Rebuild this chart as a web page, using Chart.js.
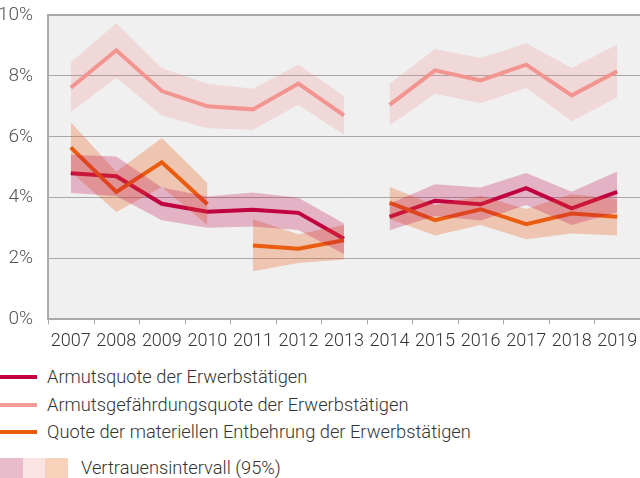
<!DOCTYPE html>
<html>
<head>
<meta charset="utf-8">
<script src="https://cdn.jsdelivr.net/npm/chart.js@4"></script>
<style>
  body { margin: 0; background: #fff; font-family: Roboto, sans-serif; font-weight: 300; color: #333; }
  #wrap { position: relative; width: 640px; height: 478px; overflow: hidden; }
  #chartBox { position: absolute; left: 0; top: 0; width: 640px; height: 355px; }
  .leg { position: absolute; left: 0; font-size: 18.3px; line-height: 20px; white-space: nowrap; }
  .leg .ln { position: absolute; left: 0; top: 8px; width: 37px; height: 4px; }
  .leg .tx { position: absolute; left: 47px; top: 0; }
  .sw { position: absolute; top: 458px; width: 23px; height: 20px; }
</style>
</head>
<body>
<div id="wrap">
  <div id="chartBox"><canvas id="lineChart"></canvas></div>
  <div class="leg" style="top:367px"><div class="ln" style="background:#c3003f"></div><div class="tx">Armutsquote der Erwerbstätigen</div></div>
  <div class="leg" style="top:395px"><div class="ln" style="background:#f39c95"></div><div class="tx">Armutsgefährdungsquote der Erwerbstätigen</div></div>
  <div class="leg" style="top:422px"><div class="ln" style="background:#ea5b0c"></div><div class="tx">Quote der materiellen Entbehrung der Erwerbstätigen</div></div>
  <div class="sw" style="left:0;background:#e9bccb"></div>
  <div class="sw" style="left:23px;background:#fbe3e3"></div>
  <div class="sw" style="left:45px;background:#f9d2bc"></div>
  <div class="leg" style="top:458px;left:81px">Vertrauensintervall (95%)</div>
</div>
<script>

const years = ["2007","2008","2009","2010","2011","2012","2013","2014","2015","2016","2017","2018","2019"];

// Armutsquote der Erwerbstätigen
const armut = [4.8, 4.7, 3.8, 3.54, 3.6, 3.5, 2.65, null, 3.37, 3.9, 3.78, 4.31, 3.65, 4.19];
const armutHigh = [5.41, 5.35, 4.33, 4.04, 4.17, 4.0, 3.15, null, 3.8, 4.44, 4.33, 4.81, 4.19, 4.86];
const armutLow = [4.15, 4.05, 3.26, 3.01, 3.05, 2.94, 2.15, null, 2.93, 3.4, 3.25, 3.76, 3.1, 3.52];

// Armutsgefährdungsquote der Erwerbstätigen
const gefahr = [7.61, 8.84, 7.5, 7.0, 6.9, 7.75, 6.7, null, 7.05, 8.18, 7.85, 8.37, 7.36, 8.15];
const gefahrHigh = [8.44, 9.73, 8.26, 7.74, 7.58, 8.37, 7.34, null, 7.74, 8.88, 8.59, 9.07, 8.26, 9.03];
const gefahrLow = [6.81, 7.94, 6.7, 6.28, 6.23, 7.05, 6.06, null, 6.37, 7.41, 7.1, 7.61, 6.51, 7.3];

// Quote der materiellen Entbehrung der Erwerbstätigen
const entbehrung = [5.65, 4.19, 5.16, 3.78, null, 2.43, 2.32, 2.6, null, 3.84, 3.26, 3.62, 3.13, 3.48, 3.37];
const entbehrungHigh = [6.48, 4.85, 5.96, 4.48, null, 3.29, 2.8, 3.1, null, 4.36, 3.75, 4.06, 3.63, 4.11, 3.95];
const entbehrungLow = [4.85, 3.53, 4.35, 3.1, null, 1.58, 1.85, 1.97, null, 3.3, 2.76, 3.1, 2.63, 2.82, 2.76];

// the gaps sit between two years, so use x values in half steps
function toPoints(values){
    const pts = [];
    let i = 0;
    values.forEach(v => {
        if(v === null){
            pts.push({x: i - 0.5, y: null});
        } else {
            pts.push({x: i, y: v});
            i++;
        }
    });
    return pts;
}

function band(values, color, fill){
    return {
        data: toPoints(values),
        borderWidth: 0,
        pointRadius: 0,
        backgroundColor: color,
        fill: fill,
        spanGaps: false
    };
}

function line(values, color){
    return {
        data: toPoints(values),
        borderColor: color,
        borderWidth: 4,
        pointRadius: 0,
        fill: false,
        spanGaps: false,
        borderJoinStyle: "miter"
    };
}

const plotBackground = {
    id: "plotBackground",
    beforeDraw(chart){
        const a = chart.chartArea;
        const ctx = chart.ctx;
        ctx.save();
        ctx.fillStyle = "#f0f0f0";
        ctx.fillRect(a.left, a.top, a.right - a.left, a.bottom - a.top);
        ctx.restore();
    }
};

const ctx = document.getElementById("lineChart").getContext("2d");

new Chart(ctx, {
    type: "line",
    data: {
        datasets: [
            band(gefahrHigh, "rgba(240,120,120,0.2)", "+1"),
            band(gefahrLow, "transparent", false),
            band(armutHigh, "rgba(190,0,70,0.26)", "+1"),
            band(armutLow, "transparent", false),
            band(entbehrungHigh, "rgba(235,100,30,0.3)", "+1"),
            band(entbehrungLow, "transparent", false),
            line(gefahr, "#f39c95"),
            line(entbehrung, "#ea5b0c"),
            line(armut, "#c3003f")
        ]
    },
    options: {
        responsive: true,
        maintainAspectRatio: false,
        animation: false,
        layout: { padding: { top: 15, right: 0, left: 0, bottom: 0 } },
        plugins: {
            legend: { display: false },
            tooltip: { enabled: false }
        },
        scales: {
            x: {
                type: "linear",
                min: -0.5,
                max: 12.5,
                afterBuildTicks: axis => {
                    axis.ticks = years.map((y, i) => ({ value: i }));
                },
                afterFit: axis => {
                    axis.paddingLeft = 0;
                    axis.paddingRight = 0;
                },
                ticks: {
                    callback: (v, i) => years[i],
                    font: { family: "Roboto", weight: 300, size: 18 },
                    color: "#333",
                    padding: 3,
                    autoSkip: false,
                    maxRotation: 0
                },
                grid: { display: false },
                border: { color: "#aaa", width: 2 }
            },
            y: {
                min: 0,
                max: 10,
                afterFit: axis => {
                    axis.width = 48;
                    axis.paddingTop = 0;
                },
                ticks: {
                    stepSize: 2,
                    callback: v => v + "%",
                    font: { family: "Roboto", weight: 300, size: 19 },
                    color: "#555",
                    padding: 15
                },
                grid: {
                    color: "#a8a8a8",
                    lineWidth: c => (c.tick && c.tick.value === 10) ? 2 : 1,
                    drawTicks: false
                },
                border: { color: "#aaa", width: 2 }
            }
        }
    },
    plugins: [plotBackground, {
        id: "boundaryTicks",
        afterDraw(chart){
            const x = chart.scales.x;
            const c = chart.ctx;
            const bottom = chart.chartArea.bottom;
            c.save();
            c.strokeStyle = "#aaa";
            c.lineWidth = 1;
            for(let i = 0; i <= years.length; i++){
                const px = Math.round(x.getPixelForValue(i - 0.5)) + 0.5;
                c.beginPath();
                c.moveTo(px, bottom);
                c.lineTo(px, bottom + 5);
                c.stroke();
            }
            c.restore();
        }
    }]
});
</script>
</body>
</html>
